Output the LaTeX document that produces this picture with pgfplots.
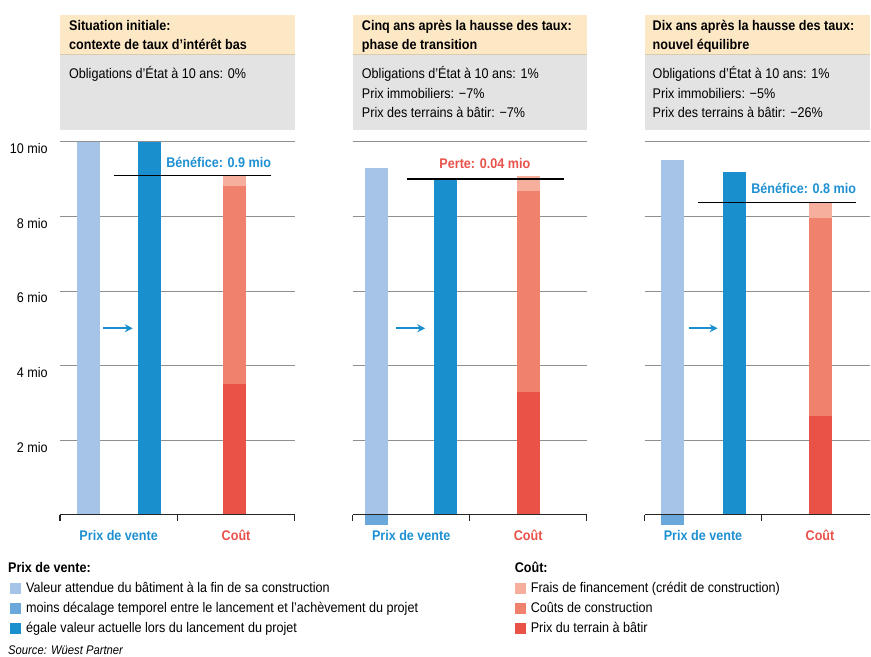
\documentclass[border=0pt]{standalone}
\usepackage{pgfplots}
\pgfplotsset{compat=1.18}
\usetikzlibrary{arrows.meta}
\usepackage{fontspec}
\setmainfont{Liberation Sans}[FakeStretch=0.9]
\definecolor{lblue}{HTML}{A5C4E8}
\definecolor{mblue}{HTML}{6AA8DC}
\definecolor{dblue}{HTML}{1A8FCE}
\definecolor{fin}{HTML}{F6AF9C}
\definecolor{cons}{HTML}{F0826D}
\definecolor{land}{HTML}{E85247}
\definecolor{beige}{HTML}{FDE8C6}
\definecolor{hgray}{HTML}{E3E3E3}
\definecolor{tanl}{HTML}{D8CBB0}
\definecolor{gridc}{HTML}{8F8F8F}
\definecolor{txtblue}{HTML}{1E90D2}
\definecolor{txtred}{HTML}{E8524A}
\pgfplotsset{
  panel/.style={scale only axis, width=235pt, height=384.2pt, xmin=0, xmax=2,
    ymin=-0.3, ymax=10, clip=false, axis line style={draw=none}, xtick=\empty,
    ytick={2,4,6,8,10}, ymajorgrids, grid style={gridc, line width=0.9pt},
    major tick length=0pt, anchor=south west},
  bar/.style={ybar, bar width=23pt, bar shift=0pt, draw=none, fill=#1},
  arr/.style={dblue, line width=1.6pt, -{Stealth[length=8pt,width=8pt]}},
}
\newcommand{\tf}{\fontsize{14}{17}\selectfont}
\begin{document}
\begin{tikzpicture}
\begin{scope}[x=1pt,y=1pt]
\useasboundingbox (0,0) rectangle (871,657);
% header boxes
\foreach \xa/\xb in {60/295, 353/587, 645/871} {
  \fill[beige] (\xa,642) rectangle (\xb,602.5);
  \fill[hgray] (\xa,602.5) rectangle (\xb,527);
  \draw[tanl, line width=1pt] (\xa,602.5) -- (\xb,602.5);
}
\begin{scope}[every node/.style={anchor=base west, inner sep=0pt, font=\tf}]
\node[font=\tf\bfseries] at (69,626) {Situation initiale:};
\node[font=\tf\bfseries] at (69,607) {contexte de taux d’intérêt bas};
\node at (69,578) {Obligations d’État à 10 ans: 0\%};
\node[font=\tf\bfseries] at (362,626) {Cinq ans après la hausse des taux:};
\node[font=\tf\bfseries] at (362,607) {phase de transition};
\node at (362,578) {Obligations d’État à 10 ans: 1\%};
\node at (362,558) {Prix immobiliers: −7\%};
\node at (362,539) {Prix des terrains à bâtir: −7\%};
\node[font=\tf\bfseries] at (653,626) {Dix ans après la hausse des taux:};
\node[font=\tf\bfseries] at (653,607) {nouvel équilibre};
\node at (653,578) {Obligations d’État à 10 ans: 1\%};
\node at (653,558) {Prix immobiliers: −5\%};
\node at (653,539) {Prix des terrains à bâtir: −26\%};
% legend
\node[font=\tf\bfseries] at (8,84) {Prix de vente:};
\fill[lblue] (10,63) rectangle (21,74); \node at (26,64) {Valeur attendue du bâtiment à la fin de sa construction};
\fill[mblue] (10,43) rectangle (21,54); \node at (26,44) {moins décalage temporel entre le lancement et l’achèvement du projet};
\fill[dblue] (10,23) rectangle (21,34); \node at (26,24) {égale valeur actuelle lors du lancement du projet};
\node[font=\tf\bfseries] at (515,84) {Coût:};
\fill[fin] (515,63) rectangle (526,74); \node at (531,64) {Frais de financement (crédit de construction)};
\fill[cons] (515,43) rectangle (526,54); \node at (531,44) {Coûts de construction};
\fill[land] (515,23) rectangle (526,34); \node at (531,24) {Prix du terrain à bâtir};
\node[font=\fontsize{12.5}{14}\selectfont\itshape] at (8,2) {Source: Wüest Partner};
\end{scope}
\end{scope}

% Panel 1
\begin{axis}[panel, at={(60pt,130.8pt)},
  yticklabels={2 mio,4 mio,6 mio,8 mio,10 mio},
  yticklabel style={font=\tf, anchor=east, inner sep=0pt, xshift=-12pt, yshift=-7pt}]
\addplot[bar=lblue] coordinates {(0.24,10)};
\addplot[bar=dblue] coordinates {(0.76,10)};
\addplot[bar=fin] coordinates {(1.49,9.1)};
\addplot[bar=cons] coordinates {(1.49,8.82)};
\addplot[bar=land] coordinates {(1.49,3.5)};
\addplot[black, line width=1.5pt] coordinates {(0.46,9.1) (1.80,9.1)};
\addplot[arr] coordinates {(0.37,5) (0.62,5)};
\addplot[black!85, line width=1.3pt] coordinates {(0,0) (2,0)};
\draw[black!85, line width=1.3pt] (axis cs:0,0) -- ++(0pt,-6pt) (axis cs:1,0) -- ++(0pt,-6pt) (axis cs:2,0) -- ++(0pt,-6pt);
\node[anchor=east, inner sep=0pt, font=\tf\bfseries, text=txtblue] at (axis cs:1.80,9.44) {Bénéfice: 0.9 mio};
\node[anchor=base, inner sep=0pt, font=\tf\bfseries, text=txtblue] at (axis cs:0.5,-0.7) {Prix de vente};
\node[anchor=base, inner sep=0pt, font=\tf\bfseries, text=txtred] at (axis cs:1.5,-0.7) {Coût};
\end{axis}

% Panel 2
\begin{axis}[panel, at={(353pt,130.8pt)}, width=234pt, yticklabels={}]
\addplot[bar=lblue] coordinates {(0.205,9.3)};
\addplot[bar=dblue] coordinates {(0.795,9.0)};
\addplot[bar=fin] coordinates {(1.5,9.08)};
\addplot[bar=cons] coordinates {(1.5,8.69)};
\addplot[bar=land] coordinates {(1.5,3.3)};
\addplot[black, line width=1.5pt] coordinates {(0.46,9.0) (1.81,9.0)};
\addplot[arr] coordinates {(0.37,5) (0.62,5)};
\addplot[black!85, line width=1.3pt] coordinates {(0,0) (2,0)};
\draw[black!85, line width=1.3pt] (axis cs:0,0) -- ++(0pt,-6pt) (axis cs:1,0) -- ++(0pt,-6pt) (axis cs:2,0) -- ++(0pt,-6pt);
\addplot[bar=mblue] coordinates {(0.205,-0.27)};
\node[anchor=center, inner sep=0pt, font=\tf\bfseries, text=txtred] at (axis cs:1.13,9.41) {Perte: 0.04 mio};
\node[anchor=base, inner sep=0pt, font=\tf\bfseries, text=txtblue] at (axis cs:0.5,-0.7) {Prix de vente};
\node[anchor=base, inner sep=0pt, font=\tf\bfseries, text=txtred] at (axis cs:1.5,-0.7) {Coût};
\end{axis}

% Panel 3
\begin{axis}[panel, at={(645pt,130.8pt)}, width=226pt, xmax=1.93, yticklabels={}]
\addplot[bar=lblue] coordinates {(0.24,9.52)};
\addplot[bar=dblue] coordinates {(0.77,9.18)};
\addplot[bar=fin] coordinates {(1.5,8.38)};
\addplot[bar=cons] coordinates {(1.5,7.97)};
\addplot[bar=land] coordinates {(1.5,2.64)};
\addplot[black, line width=1.5pt] coordinates {(0.46,8.38) (1.81,8.38)};
\addplot[arr] coordinates {(0.38,5) (0.625,5)};
\addplot[black!85, line width=1.3pt] coordinates {(0,0) (1.93,0)};
\draw[black!85, line width=1.3pt] (axis cs:0,0) -- ++(0pt,-6pt) (axis cs:1,0) -- ++(0pt,-6pt);
\addplot[bar=mblue] coordinates {(0.24,-0.27)};
\node[anchor=east, inner sep=0pt, font=\tf\bfseries, text=txtblue] at (axis cs:1.81,8.74) {Bénéfice: 0.8 mio};
\node[anchor=base, inner sep=0pt, font=\tf\bfseries, text=txtblue] at (axis cs:0.5,-0.7) {Prix de vente};
\node[anchor=base, inner sep=0pt, font=\tf\bfseries, text=txtred] at (axis cs:1.5,-0.7) {Coût};
\end{axis}
\end{tikzpicture}
\end{document}
